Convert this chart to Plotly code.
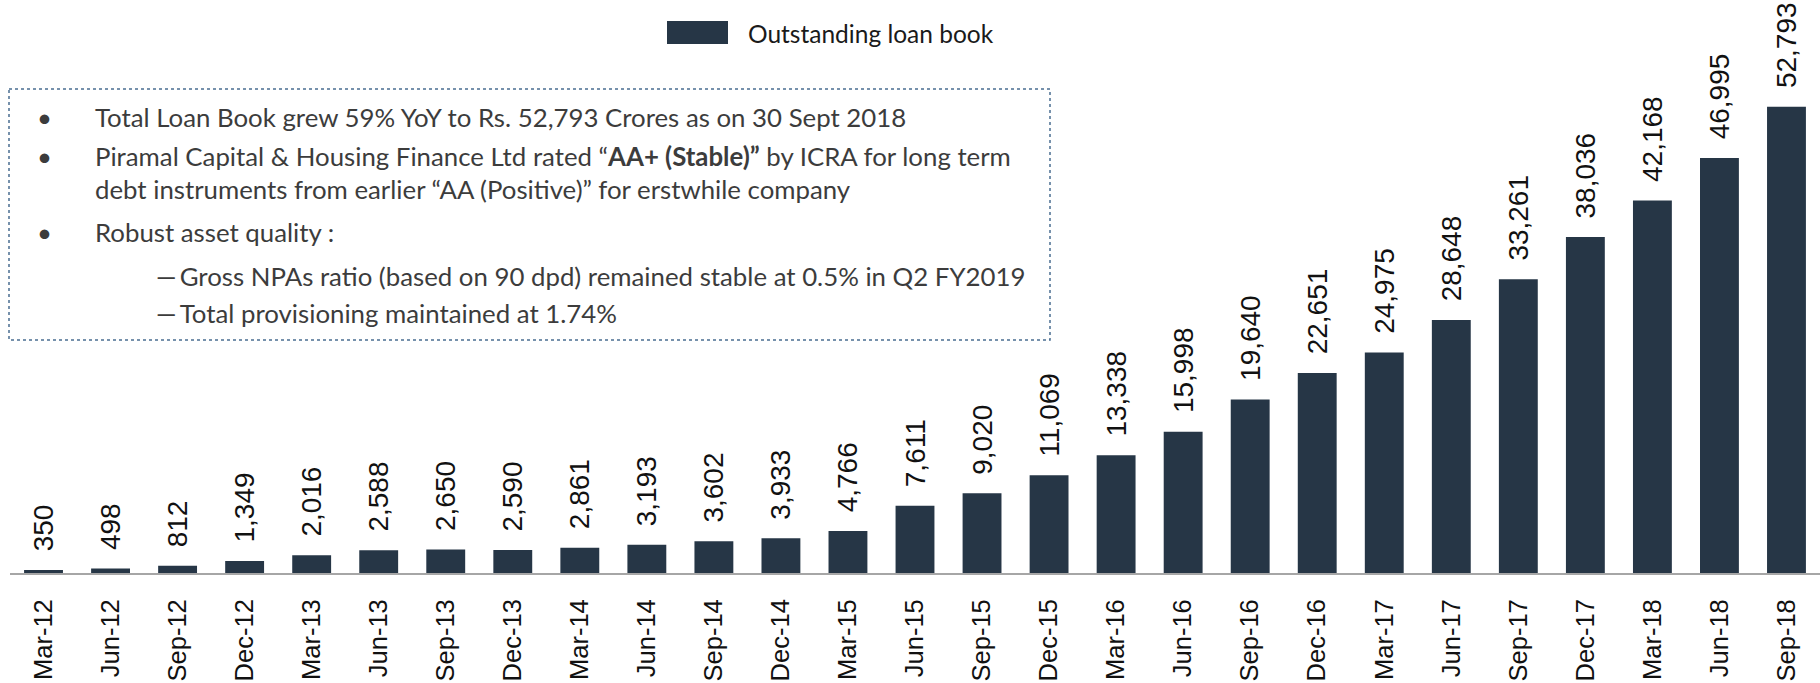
import plotly.graph_objects as go

categories = ["Mar-12", "Jun-12", "Sep-12", "Dec-12", "Mar-13", "Jun-13", "Sep-13", "Dec-13",
              "Mar-14", "Jun-14", "Sep-14", "Dec-14", "Mar-15", "Jun-15", "Sep-15", "Dec-15",
              "Mar-16", "Jun-16", "Sep-16", "Dec-16", "Mar-17", "Jun-17", "Sep-17", "Dec-17",
              "Mar-18", "Jun-18", "Sep-18"]
loan_book = [350, 498, 812, 1349, 2016, 2588, 2650, 2590, 2861, 3193, 3602, 3933, 4766, 7611,
             9020, 11069, 13338, 15998, 19640, 22651, 24975, 28648, 33261, 38036, 42168, 46995, 52793]
series_name = "Outstanding loan book"
notes = [
    ("•", "Total Loan Book grew 59% YoY to Rs. 52,793 Crores as on 30 Sept 2018"),
    ("•", "Piramal Capital &amp; Housing Finance Ltd rated “<b>AA+ (Stable)”</b> by ICRA for long term"),
    ("", "debt instruments from earlier “AA (Positive)” for erstwhile company"),
    ("•", "Robust asset quality :"),
    ("—", "Gross NPAs ratio (based on 90 dpd) remained stable at 0.5% in Q2 FY2019"),
    ("—", "Total provisioning maintained at 1.74%"),
]

W, H = 1820, 683
ML, MR, MT, MB = 10, 0, 43, 110
PW, PH = W - ML - MR, H - MT - MB
BAR = "#263646"


def px_x(x):
    return (x - ML) / PW


def px_y(y):
    return (H - MB - y) / PH


fig = go.Figure()
fig.add_trace(go.Bar(
    x=categories, y=loan_book, name=series_name,
    marker=dict(color=BAR, line=dict(width=0)),
    text=["\u00a0\u00a0" + f"{v:,}" for v in loan_book], textposition="outside", textangle=-90,
    textfont=dict(family="Liberation Sans", size=28, color="#111111"),
    cliponaxis=False, constraintext="none", showlegend=False,
))

shapes = [
    dict(type="rect", xref="paper", yref="paper", x0=px_x(9), x1=px_x(1050), y0=px_y(89), y1=px_y(340),
         line=dict(color="#4a6d91", width=1.5, dash="dot"), fillcolor="rgba(0,0,0,0)", layer="above"),
    dict(type="rect", xref="paper", yref="paper", x0=px_x(667), x1=px_x(728), y0=px_y(21), y1=px_y(44),
         line=dict(width=0), fillcolor=BAR),
]

annotations = [dict(xref="paper", yref="paper", x=px_x(746), y=px_y(33), text=series_name,
                    showarrow=False, xanchor="left", yanchor="middle",
                    font=dict(family="Lato", size=24.5, color="#1a1a1a"))]

line_y = [117, 156, 189, 232, 276, 313]
for (mark, txt), yy in zip(notes, line_y):
    font = dict(family="Lato", size=25.8, color="#3c3c3c")
    if mark == "•":
        annotations.append(dict(xref="paper", yref="paper", x=px_x(44), y=px_y(yy), text="•",
                                showarrow=False, xanchor="center", yanchor="middle", font=font))
        annotations.append(dict(xref="paper", yref="paper", x=px_x(93), y=px_y(yy), text=txt,
                                showarrow=False, xanchor="left", yanchor="middle", font=font))
    elif mark == "—":
        annotations.append(dict(xref="paper", yref="paper", x=px_x(154), y=px_y(yy), text="—\u2009" + txt,
                                showarrow=False, xanchor="left", yanchor="middle", font=font))
    else:
        annotations.append(dict(xref="paper", yref="paper", x=px_x(93), y=px_y(yy), text=txt,
                                showarrow=False, xanchor="left", yanchor="middle", font=font))

fig.update_layout(
    width=W, height=H,
    margin=dict(l=ML, r=MR, t=MT, b=MB),
    paper_bgcolor="white", plot_bgcolor="white",
    bargap=0.42,
    xaxis=dict(type="category", tickangle=-90, showgrid=False, showline=True, linecolor="#a6a6a6",
               linewidth=2, ticks="outside", ticklen=14, tickcolor="rgba(0,0,0,0)",
               tickfont=dict(family="Liberation Sans", size=25.5, color="#111111"), range=[-0.5, 26.5]),
    yaxis=dict(visible=False, range=[0, 60000], showgrid=False, zeroline=False),
    shapes=shapes, annotations=annotations, showlegend=False,
)

fig.write_html("out.html", config={"displayModeBar": False},
               post_script="document.body.style.margin='0';document.body.style.overflow='hidden';")
